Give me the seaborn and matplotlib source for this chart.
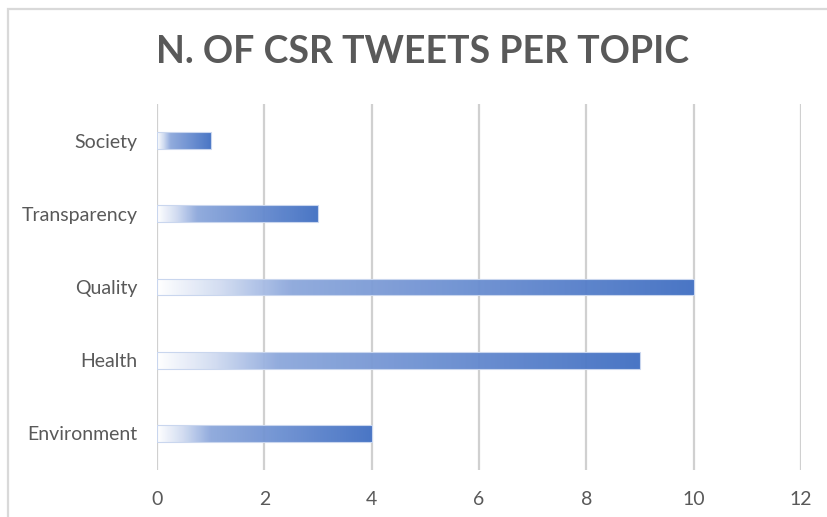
import numpy as np
import pandas as pd
import matplotlib
matplotlib.use("Agg")
import matplotlib.pyplot as plt
import seaborn as sns
from matplotlib.colors import LinearSegmentedColormap
from matplotlib.patches import Rectangle

topics = ["Society", "Transparency", "Quality", "Health", "Environment"]
tweets = [1, 3, 10, 9, 4]
xticks = [0, 2, 4, 6, 8, 10, 12]
title = "N. OF CSR TWEETS PER TOPIC"

sns.set_theme(style="white")
plt.rcParams["font.family"] = ["Lato", "DejaVu Sans"]

df = pd.DataFrame({"topic": topics, "tweets": tweets})

fig = plt.figure(figsize=(8.27, 5.17), dpi=100)
ax = fig.add_axes([157/827, 1-470/517, (801-157)/827, (470-104)/517])

sns.barplot(data=df, x="tweets", y="topic", order=topics, orient="h",
            color="#4472C4", width=0.23, ax=ax, zorder=3)

cmap = LinearSegmentedColormap.from_list(
    "grad", [(0.0, "#FFFFFF"), (0.12, "#D0DBF1"), (0.25, "#8DA8DC"),
             (1.0, "#4270C3")])
grad = np.linspace(0, 1, 256).reshape(1, -1)
for p in ax.patches:
    x0, y0 = p.get_x(), p.get_y()
    w, h = p.get_width(), p.get_height()
    p.set_facecolor("none")
    p.set_edgecolor("#C9D6EE")
    p.set_linewidth(0.8)
    im = ax.imshow(grad, cmap=cmap, aspect="auto", extent=[x0, x0 + w, y0 + h, y0],
                   zorder=2, alpha=0.96, interpolation="bilinear")
    im.set_clip_path(p)

ax.set_xlim(0, 12)
ax.set_ylim(4.5, -0.5)
ax.set_xticks(xticks)
ax.set_xticklabels([str(t) for t in xticks])
ax.xaxis.grid(True, color="#D0D0D0", linewidth=1.6, zorder=1)
ax.yaxis.grid(False)
ax.set_axisbelow(True)
for s in ax.spines.values():
    s.set_visible(False)
ax.set_xlabel("")
ax.set_ylabel("")
ax.tick_params(axis="x", length=0, pad=15, labelsize=14, labelcolor="#595959")
ax.tick_params(axis="y", length=0, pad=14, labelsize=14, labelcolor="#595959")

fig.text(423/827, 1-52/517, title, ha="center", va="center",
         fontsize=27, fontweight="bold", color="#595959")

fig.patches.append(Rectangle((8/827, -0.1), 1.2, 1.1 - 9/517,
                             transform=fig.transFigure, fill=False,
                             edgecolor="#D9D9D9", linewidth=1.6))

fig.savefig("out.png", dpi=100, facecolor="white")
